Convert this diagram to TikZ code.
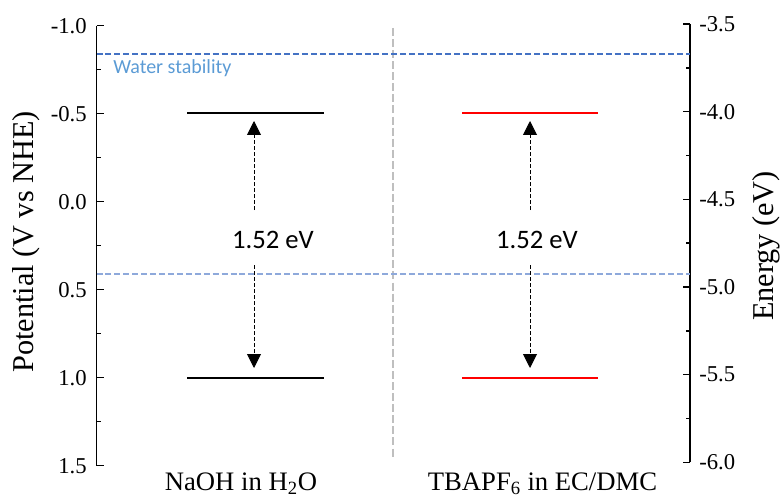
\documentclass[tikz,border=0pt]{standalone}
\usepackage{fontspec}
\setmainfont{Liberation Serif}
\newfontfamily\calibri{Carlito}
\usetikzlibrary{arrows.meta,positioning}

\definecolor{waterdark}{HTML}{4472C4}
\definecolor{waterlight}{HTML}{8EA9DB}
\definecolor{watertext}{HTML}{5B9BD5}
\definecolor{sepgray}{HTML}{BFBFBF}

\begin{document}
\begin{tikzpicture}[
  x=0.75pt, y=-0.75pt,
  every node/.style={font=\fontsize{17}{20}\selectfont, inner sep=0pt},
  axis/.style={line width=1.4pt},
  tick/.style={line width=1.1pt},
  level/.style={line width=1.6pt},
  water/.style={dash pattern=on 4.5pt off 2.2pt, line width=0.9pt},
  gap/.style={-{Triangle[width=10.5pt,length=10.5pt]}, dash pattern=on 3pt off 1.5pt, line width=0.7pt},
  title/.style={font=\fontsize{20}{24}\selectfont},
  axtitle/.style={font=\fontsize{22.7}{26}\selectfont, rotate=90, anchor=base},
  gaplabel/.style={font=\calibri\fontsize{20}{24}\selectfont}
]
\useasboundingbox (0,0) rectangle (781,499);

% Axes
\draw[axis] (96.5,26) -- (96.5,465.7);
\draw[axis] (690,24) -- (690,462.3);

\foreach \v in {-1.0,-0.5,0.0,0.5,1.0,1.5} {
  \draw[tick] (96.5,201.7+176*\v) -- ++(7,0);
  \node[anchor=east] at (87,201.7+176*\v) {\v};
}
\foreach \v in {-0.75,-0.25,0.25,0.75,1.25}
  \draw[tick] (96.5,201.7+176*\v) -- ++(4,0);

\foreach \e/\t in {3.5/-3.5,4.0/-4.0,4.5/-4.5,5.0/-5.0,5.5/-5.5,6.0/-6.0} {
  \draw[tick] (690,24+175.3*\e-613.55) -- ++(-7,0);
  \node[anchor=west] at (699,24+175.3*\e-613.55) {\t};
}
\foreach \e in {3.75,4.25,4.75,5.25,5.75}
  \draw[tick] (690,24+175.3*\e-613.55) -- ++(-4,0);

\node[axtitle] (ytitle) at (33,242) {Potential (V vs NHE)};
\node[axtitle] (etitle) at (773,246) {Energy (eV)};

% Separator and water window
\draw[sepgray, line width=1.5pt, dash pattern=on 6pt off 2.3pt] (393,28) -- (393,458);
\draw[water, waterdark] (96.5,54) -- (690,54);
\draw[water, waterlight, line width=1.3pt] (96.5,274) -- (690,274);
\node[anchor=west, text=watertext, font=\calibri\fontsize{15}{18}\selectfont] (wlabel) at (113,68) {Water stability};

% Levels
\draw[level] (187,113) -- (324,113);
\draw[level] (187,378) -- (324,378);
\draw[level, red] (462,113) -- (598,113);
\draw[level, red] (462,378) -- (598,378);

\coordinate (naTop) at (254,121);
\coordinate (naUp) at (254,210);
\coordinate (naDown) at (254,265);
\coordinate (naBot) at (254,368);
\coordinate (tbTop) at (530,121);
\coordinate (tbUp) at (530,210);
\coordinate (tbDown) at (530,265);
\coordinate (tbBot) at (530,368);

% Arrows
\draw[gap] (naUp) -- (naTop);
\draw[gap] (naDown) -- (naBot);
\draw[gap] (tbUp) -- (tbTop);
\draw[gap] (tbDown) -- (tbBot);

\node[gaplabel] (naGap) at (273,240) {1.52 eV};
\node[gaplabel] (tbGap) at (537,240) {1.52 eV};

\node[title, anchor=base] (naoh) at (241,490) {NaOH in H\textsubscript{2}O};
\node[title, anchor=base] (tbapf) at (542.5,490) {TBAPF\textsubscript{6} in EC/DMC};

\end{tikzpicture}
\end{document}
